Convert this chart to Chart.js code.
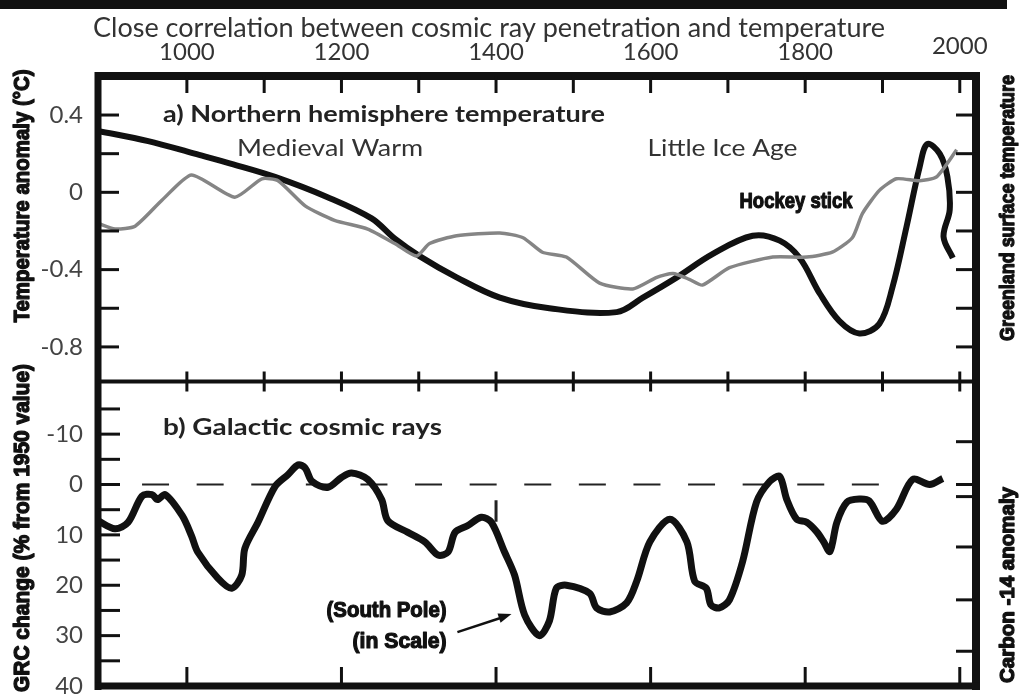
<!DOCTYPE html>
<html>
<head>
<meta charset="utf-8">
<script src="https://cdn.jsdelivr.net/npm/chart.js@4.4.1/dist/chart.umd.min.js"></script>
<style>
  html, body { margin: 0; padding: 0; background: #fff; }
</style>
</head>
<body>
<canvas id="cosmicChart" width="1021" height="694"></canvas>
<script>
// axis labels and frame tick positions
var yearLabels = [1000, 1200, 1400, 1600, 1800, 2000];
var yearTicks = [1000, 1100, 1200, 1300, 1400, 1500, 1600, 1700, 1800, 1900, 2000];
var bottomYearTicks = [1000, 1200, 1400, 1600, 1800, 2000];
var tempLabels = [0.4, 0, -0.4, -0.8];
var tempTicks = [0.4, 0.2, 0, -0.2, -0.4, -0.6, -0.8];
var grcLabels = [-10, 0, 10, 20, 30, 40];
var grcTicks = [-15, -10, -5, 0, 5, 10, 15, 20, 25, 30, 35];
// carbon-14 ticks on the right edge, expressed on the GRC axis
var c14Ticks = [-8.5, 0, 2.4, 12.4, 22.9, 33.1];

// a) northern hemisphere temperature (thick black curve)
var nhYears = [885, 950, 1010, 1060, 1114, 1182, 1239, 1269, 1301, 1349, 1405, 1469, 1556, 1590, 1634, 1680, 1732, 1767, 1793, 1819, 1844, 1870, 1896, 1913, 1931, 1948, 1958, 1974, 1984, 1987, 1979, 1991];
var nhTemp = [0.318, 0.265, 0.20, 0.145, 0.08, -0.025, -0.135, -0.24, -0.33, -0.44, -0.545, -0.60, -0.62, -0.545, -0.44, -0.32, -0.225, -0.25, -0.34, -0.525, -0.665, -0.73, -0.68, -0.49, -0.18, 0.13, 0.25, 0.20, 0.08, -0.09, -0.23, -0.34];

// Greenland surface temperature (grey curve)
var grYears = [885, 907, 933, 968, 1006, 1062, 1097, 1118, 1153, 1191, 1234, 1269, 1297, 1314, 1349, 1405, 1435, 1460, 1491, 1534, 1577, 1608, 1629, 1650, 1667, 1702, 1758, 1802, 1835, 1861, 1874, 1896, 1918, 1948, 1970, 1996];
var grTemp = [-0.16, -0.19, -0.175, -0.04, 0.09, -0.025, 0.07, 0.06, -0.07, -0.145, -0.19, -0.265, -0.33, -0.265, -0.225, -0.21, -0.235, -0.31, -0.335, -0.47, -0.50, -0.44, -0.42, -0.45, -0.48, -0.39, -0.335, -0.335, -0.31, -0.235, -0.11, 0.01, 0.07, 0.06, 0.08, 0.22];

// b) galactic cosmic rays, % change from the 1950 value
var grcYears = [885, 907, 924, 942, 955, 962, 972, 994, 1006, 1014, 1040, 1058, 1071, 1075, 1092, 1114, 1131, 1144, 1153, 1162, 1182, 1200, 1213, 1234, 1252, 1260, 1286, 1308, 1325, 1338, 1347, 1363, 1381, 1394, 1411, 1424, 1437, 1456, 1469, 1478, 1491, 1521, 1530, 1547, 1569, 1582, 1599, 1625, 1647, 1657, 1672, 1678, 1689, 1702, 1719, 1737, 1754, 1767, 1776, 1789, 1802, 1815, 1824, 1832, 1841, 1854, 1870, 1883, 1900, 1918, 1939, 1961, 1978];
var grcChange = [7.2, 8.8, 7.5, 2.3, 2.0, 3.0, 2.0, 6.2, 10.2, 13.4, 18.6, 20.6, 18.0, 12.7, 7.5, 0.4, -2.0, -3.9, -3.3, -0.6, 0.6, -1.4, -2.3, -1.0, 3.0, 7.2, 9.5, 11.4, 14.0, 13.4, 9.5, 8.2, 6.5, 7.5, 13.4, 18.0, 25.9, 30.0, 27.1, 20.6, 20.0, 21.6, 24.5, 25.3, 23.5, 19.2, 11.4, 6.9, 11.4, 19.2, 20.6, 23.9, 24.5, 22.9, 15.3, 3.5, -0.6, -1.6, 2.9, 6.9, 7.5, 9.4, 11.4, 13.3, 7.5, 3.5, 2.9, 3.3, 7.3, 4.9, -1.0, 0, -1.2];

// dashed 1950 reference level and the short marker at 1400
var zeroYears = [942, 1896];
var markYear = 1400;
var markRange = [3.1, 7.4];

function pairs(xs, ys) {
  return xs.map(function (x, i) { return { x: x, y: ys[i] }; });
}

var TEXT = '#333';
var SANS = 'Lato, "Open Sans", sans-serif';
var BOLD_NARROW = 'bold 22px "Liberation Sans", Arial, sans-serif';
var BOLD_NARROW_SM = 'bold 21px "Liberation Sans", Arial, sans-serif';

// draws a string squeezed or stretched to a given width; heavy adds an outline
function drawText(ctx, str, x, y, font, color, align, width, rot, heavy) {
  ctx.save();
  ctx.font = font;
  ctx.fillStyle = color;
  ctx.textBaseline = 'middle';
  ctx.textAlign = align;
  ctx.translate(x, y);
  if (rot) ctx.rotate(rot);
  if (width) ctx.scale(width / ctx.measureText(str).width, 1);
  ctx.fillText(str, 0, 0);
  if (heavy) {
    ctx.strokeStyle = color;
    ctx.lineWidth = heavy;
    ctx.lineJoin = 'round';
    ctx.strokeText(str, 0, 0);
  }
  ctx.restore();
}

function line(ctx, x1, y1, x2, y2, w) {
  ctx.lineWidth = w;
  ctx.beginPath();
  ctx.moveTo(x1, y1);
  ctx.lineTo(x2, y2);
  ctx.stroke();
}

var framePlugin = {
  id: 'frame',
  beforeDraw: function (chart) {
    var ctx = chart.ctx;
    ctx.save();
    ctx.fillStyle = '#fff';
    ctx.fillRect(0, 0, chart.width, chart.height);
    ctx.fillStyle = '#111';
    ctx.fillRect(0, 0, 1007, 9);
    ctx.restore();
    drawText(ctx, 'Close correlation between cosmic ray penetration and temperature',
      93, 29, '26px ' + SANS, TEXT, 'left', 792);
  },
  afterDraw: function (chart) {
    var ctx = chart.ctx, a = chart.chartArea;
    var sx = chart.scales.x, yT = chart.scales.yT, yB = chart.scales.yB;
    var mid = yT.bottom;
    ctx.save();
    ctx.strokeStyle = '#111';
    ctx.lineCap = 'butt';

    // frame and divider
    line(ctx, a.left, a.top - 4, a.left, a.bottom + 4, 7);
    line(ctx, a.right, a.top - 4, a.right, a.bottom + 4, 8);
    line(ctx, a.left - 3, a.top, a.right + 4, a.top, 8);
    line(ctx, a.left - 3, a.bottom, a.right + 4, a.bottom, 7);
    line(ctx, a.left, mid, a.right, mid, 4);

    // year ticks on the top edge and across the divider
    yearTicks.forEach(function (v) {
      var px = sx.getPixelForValue(v);
      line(ctx, px, a.top, px, a.top + 17, 3);
      line(ctx, px, mid - 10, px, mid + 10, 3);
    });
    bottomYearTicks.forEach(function (v) {
      var px = sx.getPixelForValue(v);
      line(ctx, px, a.bottom - 19, px, a.bottom, 3);
    });

    // temperature ticks, both sides of panel a
    tempTicks.forEach(function (v) {
      var py = yT.getPixelForValue(v);
      line(ctx, a.left, py, a.left + 21, py, 3);
      line(ctx, a.right - 20, py, a.right, py, 3);
    });
    // GRC ticks on the left, carbon-14 ticks on the right of panel b
    grcTicks.forEach(function (v) {
      var py = yB.getPixelForValue(v);
      line(ctx, a.left, py, a.left + 22, py, 3);
    });
    c14Ticks.forEach(function (v) {
      var py = yB.getPixelForValue(v);
      line(ctx, a.right - 20, py, a.right, py, 3);
    });

    // arrow pointing at the South Pole record
    var tx = sx.getPixelForValue(1350), ty = yB.getPixelForValue(29.3);
    var hx = sx.getPixelForValue(1420), hy = yB.getPixelForValue(25.7);
    line(ctx, tx, ty, hx - 8, hy + 3, 2.5);
    var ang = Math.atan2(hy - ty, hx - tx);
    ctx.fillStyle = '#111';
    ctx.beginPath();
    ctx.moveTo(hx, hy);
    ctx.lineTo(hx - 14 * Math.cos(ang - 0.35), hy - 14 * Math.sin(ang - 0.35));
    ctx.lineTo(hx - 14 * Math.cos(ang + 0.35), hy - 14 * Math.sin(ang + 0.35));
    ctx.closePath();
    ctx.fill();
    ctx.restore();

    // panel headings and notes
    drawText(ctx, 'a) Northern hemisphere temperature', sx.getPixelForValue(969), yT.getPixelForValue(0.40),
      'bold 23px ' + SANS, '#222', 'left', 442);
    drawText(ctx, 'Medieval Warm', sx.getPixelForValue(1065), yT.getPixelForValue(0.228),
      '24px ' + SANS, TEXT, 'left', 186);
    drawText(ctx, 'Little Ice Age', sx.getPixelForValue(1596), yT.getPixelForValue(0.228),
      '24px ' + SANS, TEXT, 'left', 150);
    drawText(ctx, 'Hockey stick', sx.getPixelForValue(1715), yT.getPixelForValue(-0.05),
      BOLD_NARROW, '#111', 'left', 113, 0, 1.2);
    drawText(ctx, 'b) Galactic cosmic rays', sx.getPixelForValue(969), yB.getPixelForValue(-11.3),
      'bold 23px ' + SANS, '#222', 'left', 279);
    drawText(ctx, '(South Pole)', sx.getPixelForValue(1336), yB.getPixelForValue(25.1),
      BOLD_NARROW, '#111', 'right', 120, 0, 1.2);
    drawText(ctx, '(in Scale)', sx.getPixelForValue(1336), yB.getPixelForValue(31.2),
      BOLD_NARROW, '#111', 'right', 94, 0, 1.2);

    // axis titles, all reading bottom to top
    var up = -Math.PI / 2;
    drawText(ctx, 'Temperature anomaly (\u00B0C)', 23, 196, BOLD_NARROW, '#111', 'center', 253, up, 1.3);
    drawText(ctx, 'GRC change (% from 1950 value)', 23, 528, BOLD_NARROW, '#111', 'center', 328, up, 1.3);
    drawText(ctx, 'Greenland surface temperature', 1008, 208, BOLD_NARROW_SM, '#111', 'center', 266, up, 1.3);
    drawText(ctx, 'Carbon -14 anomaly', 1008, 585, BOLD_NARROW_SM, '#111', 'center', 196, up, 1.3);
  }
};

function fixedTicks(list) {
  return function (scale) {
    scale.ticks = list.map(function (v) { return { value: v }; });
  };
}

// keep the frame where it is: no extra room for overhanging tick labels
function fixBox(size) {
  return function (s) {
    if (s.isHorizontal()) s.height = size; else s.width = size;
    s.paddingTop = s.paddingBottom = s.paddingLeft = s.paddingRight = 0;
  };
}

new Chart(document.getElementById('cosmicChart'), {
  type: 'line',
  data: {
    datasets: [
      {
        label: 'Greenland surface temperature',
        data: pairs(grYears, grTemp),
        yAxisID: 'yT',
        borderColor: '#858585',
        borderWidth: 3.5,
        tension: 0.2,
        pointRadius: 0
      },
      {
        label: 'Northern hemisphere temperature',
        data: pairs(nhYears, nhTemp),
        yAxisID: 'yT',
        borderColor: '#111',
        borderWidth: 6,
        tension: 0.35,
        pointRadius: 0
      },
      {
        label: 'Galactic cosmic rays',
        data: pairs(grcYears, grcChange),
        yAxisID: 'yB',
        borderColor: '#111',
        borderWidth: 7,
        tension: 0.3,
        pointRadius: 0
      },
      {
        label: '1950 level',
        data: zeroYears.map(function (x) { return { x: x, y: 0 }; }),
        yAxisID: 'yB',
        borderColor: '#222',
        borderWidth: 2,
        borderDash: [27, 27.6],
        pointRadius: 0
      },
      {
        label: 'marker',
        data: markRange.map(function (y) { return { x: markYear, y: y }; }),
        yAxisID: 'yB',
        borderColor: '#222',
        borderWidth: 3,
        pointRadius: 0
      }
    ]
  },
  options: {
    responsive: false,
    animation: false,
    events: [],
    layout: { padding: { left: 0, top: 0, right: 45, bottom: 8 } },
    plugins: { legend: { display: false }, tooltip: { enabled: false } },
    scales: {
      x: {
        type: 'linear',
        position: 'top',
        min: 885,
        max: 2021,
        afterFit: fixBox(76),
        afterBuildTicks: fixedTicks(yearLabels),
        grid: { display: false, drawTicks: false },
        border: { display: false },
        ticks: {
          color: TEXT,
          padding: 9,
          autoSkip: false,
          maxRotation: 0,
          font: function (c) {
            var raised = c.tick && c.tick.value === 2000;
            return { family: SANS, size: 24, lineHeight: raised ? 1.7 : 1.2 };
          },
          callback: function (v) { return String(v); }
        }
      },
      yT: {
        type: 'linear',
        position: 'left',
        stack: 'panels',
        stackWeight: 305.5,
        weight: 1,
        min: -0.979,
        max: 0.602,
        afterFit: fixBox(98),
        afterBuildTicks: fixedTicks(tempLabels),
        grid: { display: false, drawTicks: false },
        border: { display: false },
        ticks: {
          color: '#444',
          padding: 15,
          font: { family: SANS, size: 24 },
          callback: function (v) { return v === 0 ? '0' : v.toFixed(1); }
        }
      },
      yB: {
        type: 'linear',
        position: 'left',
        stack: 'panels',
        stackWeight: 304.5,
        weight: 0,
        reverse: true,
        min: -20.45,
        max: 40,
        afterFit: fixBox(98),
        afterBuildTicks: fixedTicks(grcLabels),
        grid: { display: false, drawTicks: false },
        border: { display: false },
        ticks: {
          color: '#444',
          padding: 15,
          font: { family: SANS, size: 24 },
          callback: function (v) { return String(v); }
        }
      }
    }
  },
  plugins: [framePlugin]
});
</script>
</body>
</html>
